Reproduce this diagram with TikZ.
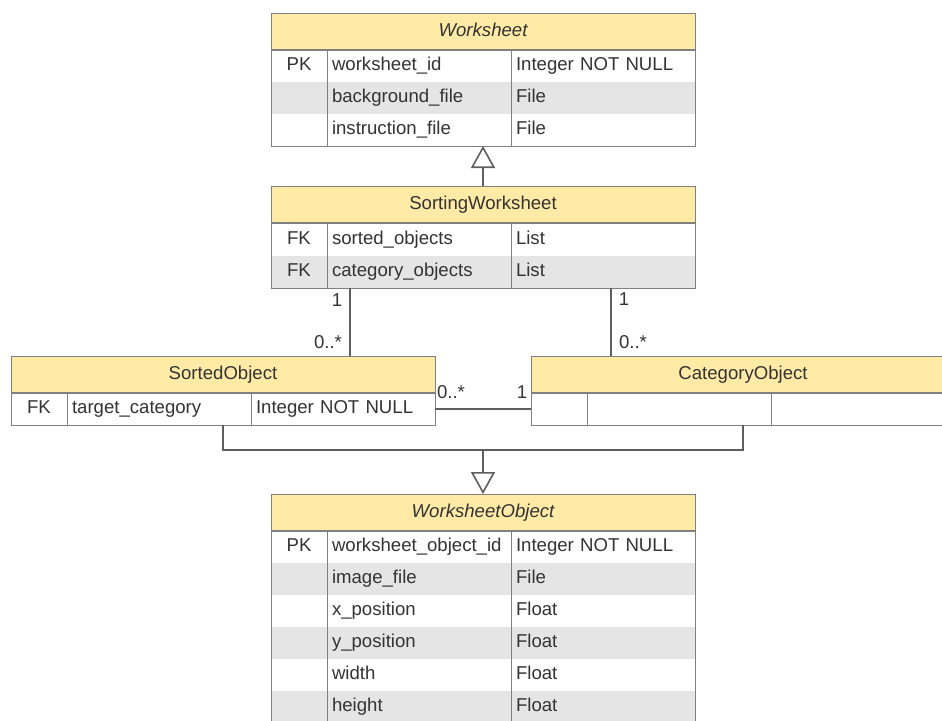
\documentclass[tikz,border=0pt]{standalone}
\usepackage{fontspec}
\setmainfont{Liberation Sans}
\usetikzlibrary{arrows.meta,calc,fit}
\definecolor{hdrfill}{HTML}{FFEBA6}
\definecolor{rowgray}{HTML}{E5E5E5}
\definecolor{bordergray}{HTML}{808080}
\definecolor{linegray}{HTML}{5E5E5E}
\definecolor{txt}{HTML}{333333}
\tikzset{
  base/.style={inner sep=0pt, outer sep=0pt, font=\fontsize{18.6}{22}\selectfont, text=txt, text height=13.5pt, text depth=4pt},
  hdrbox/.style={base, fill=hdrfill, anchor=north west, minimum height=37pt, minimum width=424pt},
  cellk/.style={base, anchor=north west, minimum height=32pt, minimum width=56pt},
  cellf/.style={base, anchor=north west, minimum height=32pt, text width=174pt, inner xsep=5pt, align=left},
  frame/.style={draw=bordergray, line width=1pt, inner sep=0pt, outer sep=0pt},
  colline/.style={draw=bordergray, line width=1pt},
  hdrline/.style={draw=bordergray, line width=1.6pt},
  conn/.style={draw=linegray, line width=1.6pt},
  inh/.style={conn, -{Triangle[open, length=22pt, width=24pt, line width=1.6pt]}},
  lbl/.style={inner sep=0pt, font=\fontsize{18.6}{22}\selectfont, text=txt}
}
\newcommand\tabhead[4]{\node[hdrbox] (#1-h) at (#2,#3) {#4};}
\newcommand\tabrow[7]{%
  \node[cellk, fill=#4] (#1k) at (#2,#3) {#5};
  \node[cellf, fill=#4] (#1f) at (#1k.north east) {#6};
  \node[cellf, fill=#4] (#1t) at (#1f.north east) {#7};}
\newcommand\tabframe[2]{%
  \node[frame, fit=(#1-h)(#2k)(#2t)] (#1) {};
  \draw[colline] (#1-r1k.north east) -- (#2k.south east);
  \draw[colline] (#1-r1f.north east) -- (#2f.south east);
  \draw[hdrline] (#1-h.south west) -- (#1-h.south east);}
\begin{document}
\begin{tikzpicture}[x=1pt,y=-1pt]
\useasboundingbox (0,0) rectangle (942,720);
\clip (0,0) rectangle (942,720);

% Worksheet
\tabhead{ws}{271}{13}{\itshape Worksheet}
\tabrow{ws-r1}{271}{50}{white}{PK}{worksheet\_id}{Integer NOT NULL}
\tabrow{ws-r2}{271}{82}{rowgray}{}{background\_file}{File}
\tabrow{ws-r3}{271}{114}{white}{}{instruction\_file}{File}
\tabframe{ws}{ws-r3}

% SortingWorksheet
\tabhead{sw}{271}{186}{SortingWorksheet}
\tabrow{sw-r1}{271}{224}{white}{FK}{sorted\_objects}{List}
\tabrow{sw-r2}{271}{256}{rowgray}{FK}{category\_objects}{List}
\tabframe{sw}{sw-r2}

% SortedObject
\tabhead{so}{11}{356}{SortedObject}
\tabrow{so-r1}{11}{393}{white}{FK}{target\_category}{Integer NOT NULL}
\tabframe{so}{so-r1}

% CategoryObject
\tabhead{co}{531}{356}{CategoryObject}
\tabrow{co-r1}{531}{393}{white}{}{}{}
\tabframe{co}{co-r1}

% WorksheetObject
\tabhead{wo}{271}{494}{\itshape WorksheetObject}
\tabrow{wo-r1}{271}{531}{white}{PK}{worksheet\_object\_id}{Integer NOT NULL}
\tabrow{wo-r2}{271}{563}{rowgray}{}{image\_file}{File}
\tabrow{wo-r3}{271}{595}{white}{}{x\_position}{Float}
\tabrow{wo-r4}{271}{627}{rowgray}{}{y\_position}{Float}
\tabrow{wo-r5}{271}{659}{white}{}{width}{Float}
\tabrow{wo-r6}{271}{691}{rowgray}{}{height}{Float}
\tabframe{wo}{wo-r6}

% inheritance SortingWorksheet -> Worksheet
\draw[inh] (sw.north) -- (ws.south);

% associations SortingWorksheet -> SortedObject / CategoryObject
\coordinate (p1) at ($(sw.south west)+(79,0)$);
\draw[conn] (p1) -- (p1 |- so.north);
\node[lbl] (l1a) at (337,300) {1};
\node[lbl] (l1b) at (328,342) {0..*};
\coordinate (p2) at ($(sw.south west)+(340,0)$);
\draw[conn] (p2) -- (p2 |- co.north);
\node[lbl] (l2a) at (624,299) {1};
\node[lbl] (l2b) at (633,342) {0..*};

% association SortedObject -- CategoryObject
\draw[conn] (so-r1t.east) -- (co-r1k.west);
\node[lbl] (l3a) at (451,392) {0..*};
\node[lbl] (l3b) at (522,392) {1};

% inheritance SortedObject, CategoryObject -> WorksheetObject
\coordinate (bus) at ($(wo.north)+(0,-44)$);
\draw[conn] (so.south) |- (bus) -| (co.south);
\draw[inh] (bus) -- (wo.north);
\end{tikzpicture}
\end{document}
